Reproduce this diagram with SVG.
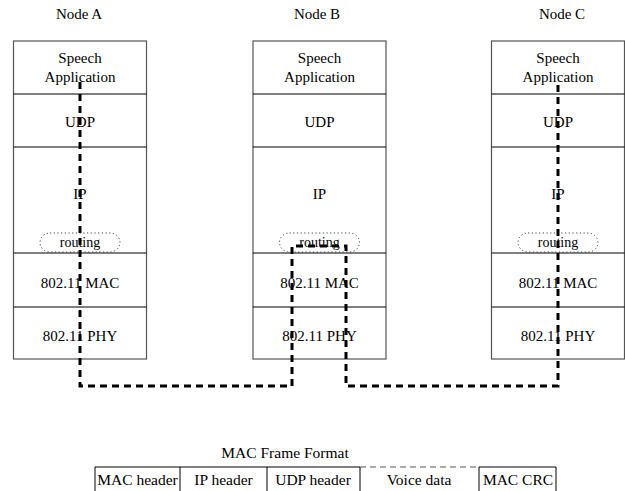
<svg xmlns="http://www.w3.org/2000/svg" width="625" height="491" viewBox="0 0 625 491">
  <style>
    text { font-family: "Liberation Serif", "Times New Roman", serif; font-size: 15px; fill: #000; text-anchor: middle; }
    .box { fill: #fff; stroke: #555; stroke-width: 1.2; }
    .div { stroke: #000; stroke-width: 1.2; }
    .route { fill: none; stroke: #444; stroke-width: 1; stroke-dasharray: 1.2 2.5; }
    .path { fill: none; stroke: #000; stroke-width: 3; stroke-dasharray: 7 5; }
    .cell { fill: none; stroke: #000; stroke-width: 1; }
    .voice { fill: none; stroke: #555; stroke-width: 1; stroke-dasharray: 6 4; }
    .ft { font-size: 15.5px; }
  </style>

  <defs>
    <g id="stack">
      <rect class="box" x="-66.5" y="41" width="133" height="318"/>
      <line class="div" x1="-66.5" y1="94" x2="66.5" y2="94"/>
      <line class="div" x1="-66.5" y1="147" x2="66.5" y2="147"/>
      <line class="div" x1="-66.5" y1="253" x2="66.5" y2="253"/>
      <line class="div" x1="-66.5" y1="307" x2="66.5" y2="307"/>
      <rect class="route" x="-40" y="233" width="80" height="19" rx="10"/>
      <text x="0" y="63">Speech</text>
      <text x="0" y="82">Application</text>
      <text x="0" y="127">UDP</text>
      <text x="0" y="199">IP</text>
      <text x="0" y="247" style="font-size:14px">routing</text>
      <text x="0" y="288">802.11 MAC</text>
      <text x="0" y="341">802.11 PHY</text>
    </g>
  </defs>

  <!-- protocol stacks -->
  <g id="nodeA">
    <text x="79" y="19">Node A</text>
    <use href="#stack" transform="translate(80,0)"/>
  </g>
  <g id="nodeB">
    <text x="317" y="19">Node B</text>
    <use href="#stack" transform="translate(319.5,0)"/>
  </g>
  <g id="nodeC">
    <text x="562" y="19">Node C</text>
    <use href="#stack" transform="translate(558,0)"/>
  </g>

  <!-- speech packet route -->
  <g id="connectors">
    <path class="path" d="M80 82 V386 H292 V246 H346 V386 H558 V82"/>
  </g>

  <!-- frame layout -->
  <g id="frame">
    <text class="ft" x="285" y="458">MAC Frame Format</text>
    <path class="cell" d="M95 467 H360 M95 467 V491 M180 467 V491 M267 467 V491 M360 467 V491"/>
    <path class="voice" d="M360 467 H479"/>
    <path class="cell" d="M479 467 H556 V491 M479 467 V491"/>
    <text class="ft" x="137.5" y="485">MAC header</text>
    <text class="ft" x="223.5" y="485">IP header</text>
    <text class="ft" x="313" y="485">UDP header</text>
    <text class="ft" x="419" y="485">Voice data</text>
    <text class="ft" x="518" y="485">MAC CRC</text>
  </g>
</svg>
